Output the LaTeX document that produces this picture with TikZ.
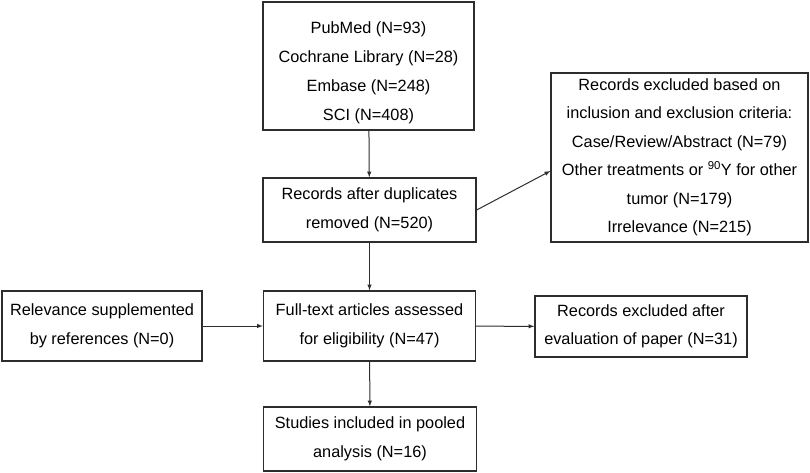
\documentclass[tikz,border=0pt]{standalone}
\usepackage{fontspec}
\setmainfont{Liberation Sans}
\usetikzlibrary{arrows,calc}
\definecolor{boxline}{RGB}{45,45,45}
\tikzset{>=latex,%
  fbox/.style={draw=boxline,line width=1.3pt,inner sep=0pt,align=center,
    font=\fontsize{16.3}{28.5}\selectfont},%
  farrow/.style={->,draw=boxline,line width=1pt}}

\begin{document}
\begin{tikzpicture}[x=1pt,y=-1pt]
  \useasboundingbox (0,0) rectangle (810,473);
  \node[fbox,minimum width=211pt,minimum height=128pt,
    label={[align=center,font=\fontsize{16.3}{29}\selectfont,yshift=-7pt]center:%
      PubMed (N=93)\\Cochrane Library (N=28)\\Embase (N=248)\\SCI (N=408)}]
    (src) at (368.5,66) {};
  \node[fbox,minimum width=213pt,minimum height=64pt] (dup) at (369.5,210)
    {Records after duplicates\\removed (N=520)};
  \node[fbox,minimum width=257pt,minimum height=169pt] (crit) at (679.5,157.5)
    {Records excluded based on\\inclusion and exclusion criteria:\\Case/Review/Abstract (N=79)\\
     Other treatments or \textsuperscript{90}Y for other\\tumor (N=179)\\Irrelevance (N=215)};
  \node[fbox,minimum width=200pt,minimum height=70pt] (rel) at (102,326)
    {Relevance supplemented\\by references (N=0)};
  \node[fbox,minimum width=212pt,minimum height=70pt] (full) at (369.5,326)
    {Full-text articles assessed\\for eligibility (N=47)};
  \node[fbox,minimum width=212pt,minimum height=61pt] (after) at (641,326.5)
    {Records excluded after\\evaluation of paper (N=31)};
  \node[fbox,minimum width=213pt,minimum height=64pt] (stud) at (370,439)
    {Studies included in pooled\\analysis (N=16)};
  \draw[farrow] (src) -- (dup);
  \draw[farrow] (dup.east) -- ([yshift=-13.5pt]crit.west);
  \draw[farrow] (dup) -- (full);
  \draw[farrow] (rel) -- (full);
  \draw[farrow] (full) -- (after);
  \draw[farrow] (full) -- (stud);
\end{tikzpicture}
\end{document}
